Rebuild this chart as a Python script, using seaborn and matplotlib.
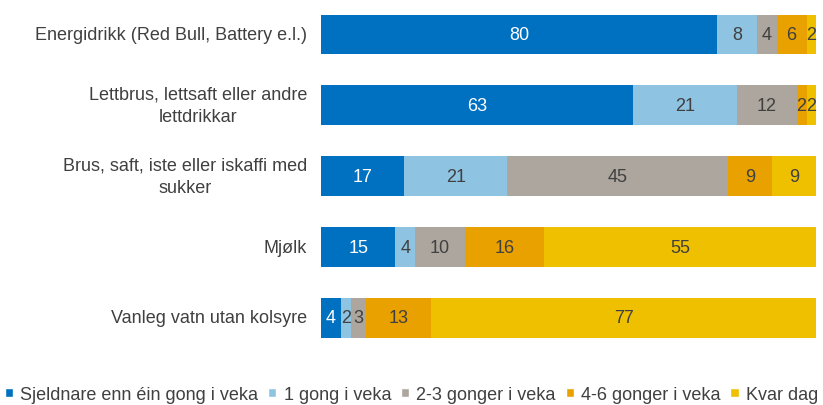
import pandas as pd
import seaborn as sns
import numpy as np
import matplotlib.pyplot as plt
from matplotlib.patches import Patch

categories = [
    "Energidrikk (Red Bull, Battery e.l.)",
    "Lettbrus, lettsaft eller andre\nlettdrikkar",
    "Brus, saft, iste eller iskaffi med\nsukker",
    "Mjølk",
    "Vanleg vatn utan kolsyre",
]
series = [
    "Sjeldnare enn éin gong i veka",
    "1 gong i veka",
    "2-3 gonger i veka",
    "4-6 gonger i veka",
    "Kvar dag",
]
sjeldnare = [80, 63, 17, 15, 4]
ein_gong = [8, 21, 21, 4, 2]
to_tre = [4, 12, 45, 10, 3]
fire_seks = [6, 2, 9, 16, 13]
kvar_dag = [2, 2, 9, 55, 77]

colors = ["#0070C0", "#8EC4E2", "#ADA69E", "#E9A100", "#EEC000"]
text_colors = ["white", "#404040", "#404040", "#404040", "#404040"]


def main():
    df = pd.DataFrame(
        {
            "kategori": categories,
            series[0]: sjeldnare,
            series[1]: ein_gong,
            series[2]: to_tre,
            series[3]: fire_seks,
            series[4]: kvar_dag,
        }
    )
    # 100% stacked: scale every row to its own total
    total = df[series].sum(axis=1)
    share = df[series].div(total, axis=0) * 100
    cum = share.cumsum(axis=1)

    sns.set_style("white")
    plt.rcParams["font.family"] = ["Liberation Sans", "DejaVu Sans"]

    fig = plt.figure(figsize=(8.23, 4.06), dpi=100)
    ax = fig.add_axes([0.39, 0.127, 0.602, 0.873])

    # stacked bars: draw cumulative totals from last to first
    for i in reversed(range(len(series))):
        sns.barplot(
            x=cum[series[i]],
            y=df["kategori"],
            orient="h",
            color=colors[i],
            width=0.56,
            saturation=1,
            linewidth=0,
            ax=ax,
        )

    # value labels in the middle of each segment
    for i, s in enumerate(series):
        start = cum[s] - share[s]
        for j in range(len(df)):
            ax.text(
                start[j] + share[s][j] / 2, j, str(df[s][j]),
                ha="center", va="center", fontsize=13, color=text_colors[i],
            )

    ax.set_xlim(0, 100)
    ax.set_ylim(4.5, -0.5)
    ax.set_xlabel("")
    ax.set_ylabel("")
    ax.set_xticks([])
    ax.set_yticks(range(len(categories)))
    ax.set_yticklabels([])
    ax.tick_params(axis="y", length=0)
    sns.despine(ax=ax, left=True, bottom=True)

    # category labels: right-aligned block, wrapped line centred under the first
    for j, cat in enumerate(categories):
        lines = cat.split("\n")
        dy = 8 if len(lines) > 1 else 0
        first = ax.annotate(
            lines[0], xy=(-0.028, j), xycoords=ax.get_yaxis_transform(),
            xytext=(0, dy), textcoords="offset points",
            ha="right", va="center", fontsize=13, color="#404040",
        )
        if len(lines) > 1:
            ax.annotate(
                lines[1], xy=(0.5, 0.5), xycoords=first,
                xytext=(0, -2 * dy), textcoords="offset points",
                ha="center", va="center", fontsize=13, color="#404040",
            )

    handles = [Patch(facecolor=c, label=s) for c, s in zip(colors, series)]
    fig.legend(
        handles=handles, loc="lower center", bbox_to_anchor=(0.5, -0.035),
        ncol=5, frameon=False, fontsize=13, handlelength=0.45, handleheight=0.45,
        handletextpad=0.4, columnspacing=0.55, labelcolor="#404040",
    )

    fig.savefig("out.png", dpi=100)


if __name__ == "__main__":
    main()
